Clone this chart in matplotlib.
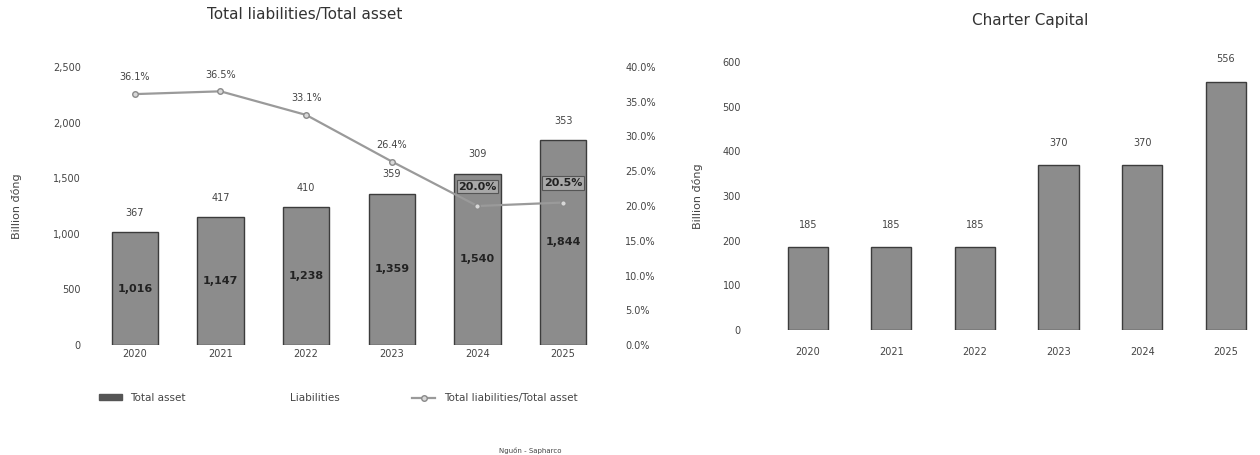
import matplotlib.pyplot as plt
from matplotlib.patches import Patch
from matplotlib.lines import Line2D

# data
years = ["2020", "2021", "2022", "2023", "2024", "2025"]
total_asset = [1016, 1147, 1238, 1359, 1540, 1844]
liabilities = [367, 417, 410, 359, 309, 353]
ratio_pct = [36.1, 36.5, 33.1, 26.4, 20.0, 20.5]

cap_years = ["2020", "2021", "2022", "2023", "2024", "2025"]
charter_capital = [185, 185, 185, 370, 370, 556]

BAR = "#8c8c8c"
EDGE = "#3c3c3c"
TXT = "#444444"

fig = plt.figure(figsize=(12.6, 4.55), dpi=100)

# ---- left chart: total assets / liabilities ----
ax = fig.add_axes([92 / 1260, 110 / 455, 514 / 1260, 278 / 455])
x = range(len(years))
ax.bar(x, liabilities, width=0.54, color="white", zorder=1)
bars = ax.bar(x, total_asset, width=0.54, color=BAR, edgecolor=EDGE, linewidth=1, zorder=2)
for i, b in enumerate(bars):
    ax.text(b.get_x() + b.get_width() / 2, total_asset[i] / 2, f"{total_asset[i]:,}",
            ha="center", va="center", fontsize=8, fontweight="bold", color="#222222", zorder=5)
    ax.annotate(f"{liabilities[i]}", (b.get_x() + b.get_width() / 2, total_asset[i]),
                xytext=(0, 14), textcoords="offset points", ha="center", va="center",
                fontsize=7, color=TXT)
ax.set_xlim(-0.5, 5.5)
ax.set_ylim(0, 2500)
ax.set_yticks(range(0, 2501, 500))
ax.set_yticklabels([f"{v:,}" for v in range(0, 2501, 500)])
ax.set_xticks(list(x))
ax.set_xticklabels(years)
ax.set_ylabel("Billion đồng", fontsize=8, color=TXT, labelpad=22)
ax.tick_params(axis="y", length=0, labelsize=7, colors=TXT, pad=8)
ax.tick_params(axis="x", length=0, labelsize=7, colors=TXT, pad=3)
for s in ax.spines.values():
    s.set_visible(False)

ax2 = ax.twinx()
ratio = [r / 100 for r in ratio_pct]
ax2.plot(list(x), ratio, color="#9a9a9a", lw=1.6, marker="o", ms=4,
         mfc="#d8d8d8", mec="#8a8a8a", zorder=4)
for i, r in enumerate(ratio):
    if i >= 4:
        ax2.annotate(f"{ratio_pct[i]:.1f}%", (i, r), xytext=(0, 14), textcoords="offset points",
                     ha="center", va="center", fontsize=8, fontweight="bold", color="#222222",
                     bbox=dict(boxstyle="square,pad=0.15", fc="#a8a8a8", ec="#555555", lw=0.8))
    else:
        ax2.annotate(f"{ratio_pct[i]:.1f}%", (i, r), xytext=(0, 12), textcoords="offset points",
                     ha="center", va="center", fontsize=7, color=TXT)
ax2.set_ylim(0, 0.40)
ax2.set_yticks([i * 0.05 for i in range(9)])
ax2.set_yticklabels([f"{i * 5:.1f}%" for i in range(9)])
ax2.tick_params(length=0, labelsize=7, colors=TXT, pad=14)
for s in ax2.spines.values():
    s.set_visible(False)

fig.text(305 / 1260, 1 - 15 / 455, "Total liabilities/Total asset", ha="center", va="center",
         fontsize=11, color="#333333")

handles = [
    Patch(facecolor="#555555", edgecolor="#555555", label="Total asset"),
    Patch(facecolor="white", edgecolor="white", label="Liabilities"),
    Line2D([0], [0], color="#9a9a9a", lw=1.6, marker="o", ms=4, mfc="#d8d8d8",
           mec="#8a8a8a", label="Total liabilities/Total asset"),
]
fig.legend(handles=handles, loc="center", bbox_to_anchor=(338 / 1260, 1 - 398 / 455), ncol=3,
           frameon=False, fontsize=7.5, handlelength=2.2, handleheight=0.5, columnspacing=7,
           labelcolor=TXT)

# ---- right chart: charter capital ----
bx = fig.add_axes([766 / 1260, 125 / 455, 494 / 1260, 268 / 455])
xc = range(len(cap_years))
cbars = bx.bar(xc, charter_capital, width=0.48, color=BAR, edgecolor=EDGE, linewidth=1)
for i, b in enumerate(cbars):
    bx.annotate(f"{charter_capital[i]}", (b.get_x() + b.get_width() / 2, charter_capital[i]),
                xytext=(0, 16), textcoords="offset points", ha="center", va="center",
                fontsize=7, color=TXT)
bx.set_xlim(-0.5, 5.41)
bx.set_ylim(0, 600)
bx.set_yticks(range(0, 601, 100))
bx.set_xticks(list(xc))
bx.set_xticklabels(cap_years)
bx.set_ylabel("Billion đồng", fontsize=8, color=TXT, labelpad=14)
bx.tick_params(axis="y", length=0, labelsize=7, colors=TXT, pad=18)
bx.tick_params(axis="x", length=0, labelsize=7, colors=TXT, pad=12)
for s in bx.spines.values():
    s.set_visible(False)

fig.text(1030 / 1260, 1 - 20 / 455, "Charter Capital", ha="center", va="center",
         fontsize=11, color="#333333")

fig.text(530 / 1260, 1 - 450 / 455, "Nguồn - Sapharco", ha="center", va="center",
         fontsize=5, color=TXT)

fig.savefig("out.png", dpi=100)
